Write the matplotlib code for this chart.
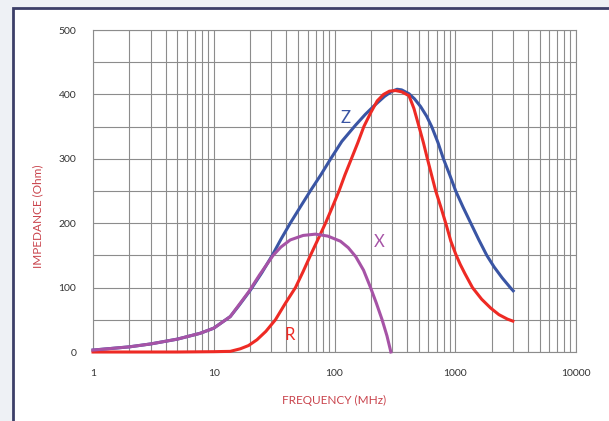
import numpy as np
import matplotlib.pyplot as plt
from matplotlib.patches import Rectangle
from matplotlib.ticker import FixedLocator, NullFormatter

plt.rcParams['font.family'] = ['Lato', 'DejaVu Sans']

# data (frequency in MHz, impedance in Ohm)
freq_z = [1, 2, 3, 5, 7.7, 10, 13.7, 16, 20.1, 25, 30.5, 36, 43, 52, 63, 77,
          93, 115, 149, 180, 212, 260, 300, 330, 360, 414, 460, 517, 580, 638,
          720, 798, 900, 1009, 1160, 1345, 1560, 1825, 2099, 2450, 2886, 3020]
imp_z = [3, 8, 12.5, 20, 29, 37, 55, 71, 96, 123, 150, 175, 200, 225, 250,
         275, 300, 327, 352, 369, 382, 397, 405, 408, 407, 401, 393, 381,
         366, 350, 325, 300, 275, 250, 225, 200, 175, 150, 132, 115, 99, 95]

freq_x = [1, 2, 3, 5, 7.7, 10, 13.7, 16, 19.4, 24, 31, 36, 43, 55, 69.5, 88,
          112, 130, 150, 174, 197, 222, 248, 272, 293]
imp_x = [3, 8, 12.5, 20, 29, 37, 55, 72, 93, 120, 150, 163, 174, 181, 183,
         180, 172, 162, 148, 127, 102, 76, 50, 25, 0]

freq_r = [1, 5, 10, 13.7, 16.6, 19.4, 22.8, 27, 32.4, 39, 47.5, 55, 63.2, 73,
          84.2, 96, 109, 122, 138, 156, 175, 200, 226, 255, 285, 320, 360,
          414, 455, 501, 545, 588, 689, 760, 834, 920, 1009, 1100, 1200,
          1389, 1654, 1971, 2300, 2710, 3000]
imp_r = [0, 0, 0.5, 1, 5, 10, 19, 32, 50, 75, 100, 125, 150, 175, 200, 225,
         250, 275, 300, 325, 350, 372, 390, 400, 405, 406, 404, 398, 378, 350,
         325, 300, 250, 225, 200, 172, 152, 136, 122, 100, 82, 68, 58, 51, 48]

x_ticks = [1, 10, 100, 1000, 10000]
y_ticks = [0, 100, 200, 300, 400, 500]

BLUE = '#3a55a4'
RED = '#ee2a24'
PURPLE = '#a653a6'
LABEL = '#c9434c'
GRID = '#8c8c8c'

fig = plt.figure(figsize=(6.09, 4.21), dpi=100)
fig.patch.set_facecolor('#eef1f5')
W, H = 609, 421
frame = Rectangle((13 / W, -0.05), 1.1, 1 - 8 / H + 0.05, transform=fig.transFigure,
                  facecolor='white', edgecolor='#3c3f68', lw=2, zorder=-10)
fig.patches.append(frame)

ax = fig.add_axes([93 / W, 1 - 352 / H, (576 - 93) / W, (352 - 30) / H])
ax.set_zorder(1)
ax.set_facecolor('none')
ax.set_xscale('log')
ax.set_xlim(1, 10000)
ax.set_ylim(0, 500)

ax.xaxis.set_major_locator(FixedLocator(x_ticks))
minors = [m * 10 ** e for e in range(4) for m in range(2, 10)]
ax.xaxis.set_minor_locator(FixedLocator(minors))
ax.xaxis.set_minor_formatter(NullFormatter())
ax.set_xticklabels([str(t) for t in x_ticks])
ax.yaxis.set_major_locator(FixedLocator(y_ticks))
ax.yaxis.set_minor_locator(FixedLocator([50, 150, 250, 350, 450]))

ax.grid(True, which='both', color=GRID, lw=0.8)
ax.tick_params(which='both', length=0, labelsize=7.5, labelcolor='#333333')
ax.tick_params(axis='x', pad=12)
ax.tick_params(axis='y', pad=12)
for s in ax.spines.values():
    s.set_color(GRID)
    s.set_linewidth(0.8)

ax.plot(freq_z, imp_z, color=BLUE, lw=2.2, zorder=3, clip_on=False,
        solid_joinstyle='round')
ax.plot(freq_r, imp_r, color=RED, lw=2.2, zorder=4, clip_on=False,
        solid_joinstyle='round')
ax.plot(freq_x, imp_x, color=PURPLE, lw=2.2, zorder=5, clip_on=False,
        solid_joinstyle='round')

ax.text(123, 363, 'Z', color=BLUE, fontsize=12, ha='center', va='center')
ax.text(236, 171, 'X', color=PURPLE, fontsize=12, ha='center', va='center')
ax.text(42.3, 26, 'R', color=RED, fontsize=12, ha='center', va='center')

fig.text(38 / W, 1 - 216 / H, 'IMPEDANCE (Ohm)', color=LABEL, fontsize=8.5,
         rotation=90, ha='center', va='center')
fig.text(334 / W, 1 - 400 / H, 'FREQUENCY (MHz)', color=LABEL, fontsize=8.5,
         ha='center', va='center')

plt.savefig('out.png', dpi=100)
